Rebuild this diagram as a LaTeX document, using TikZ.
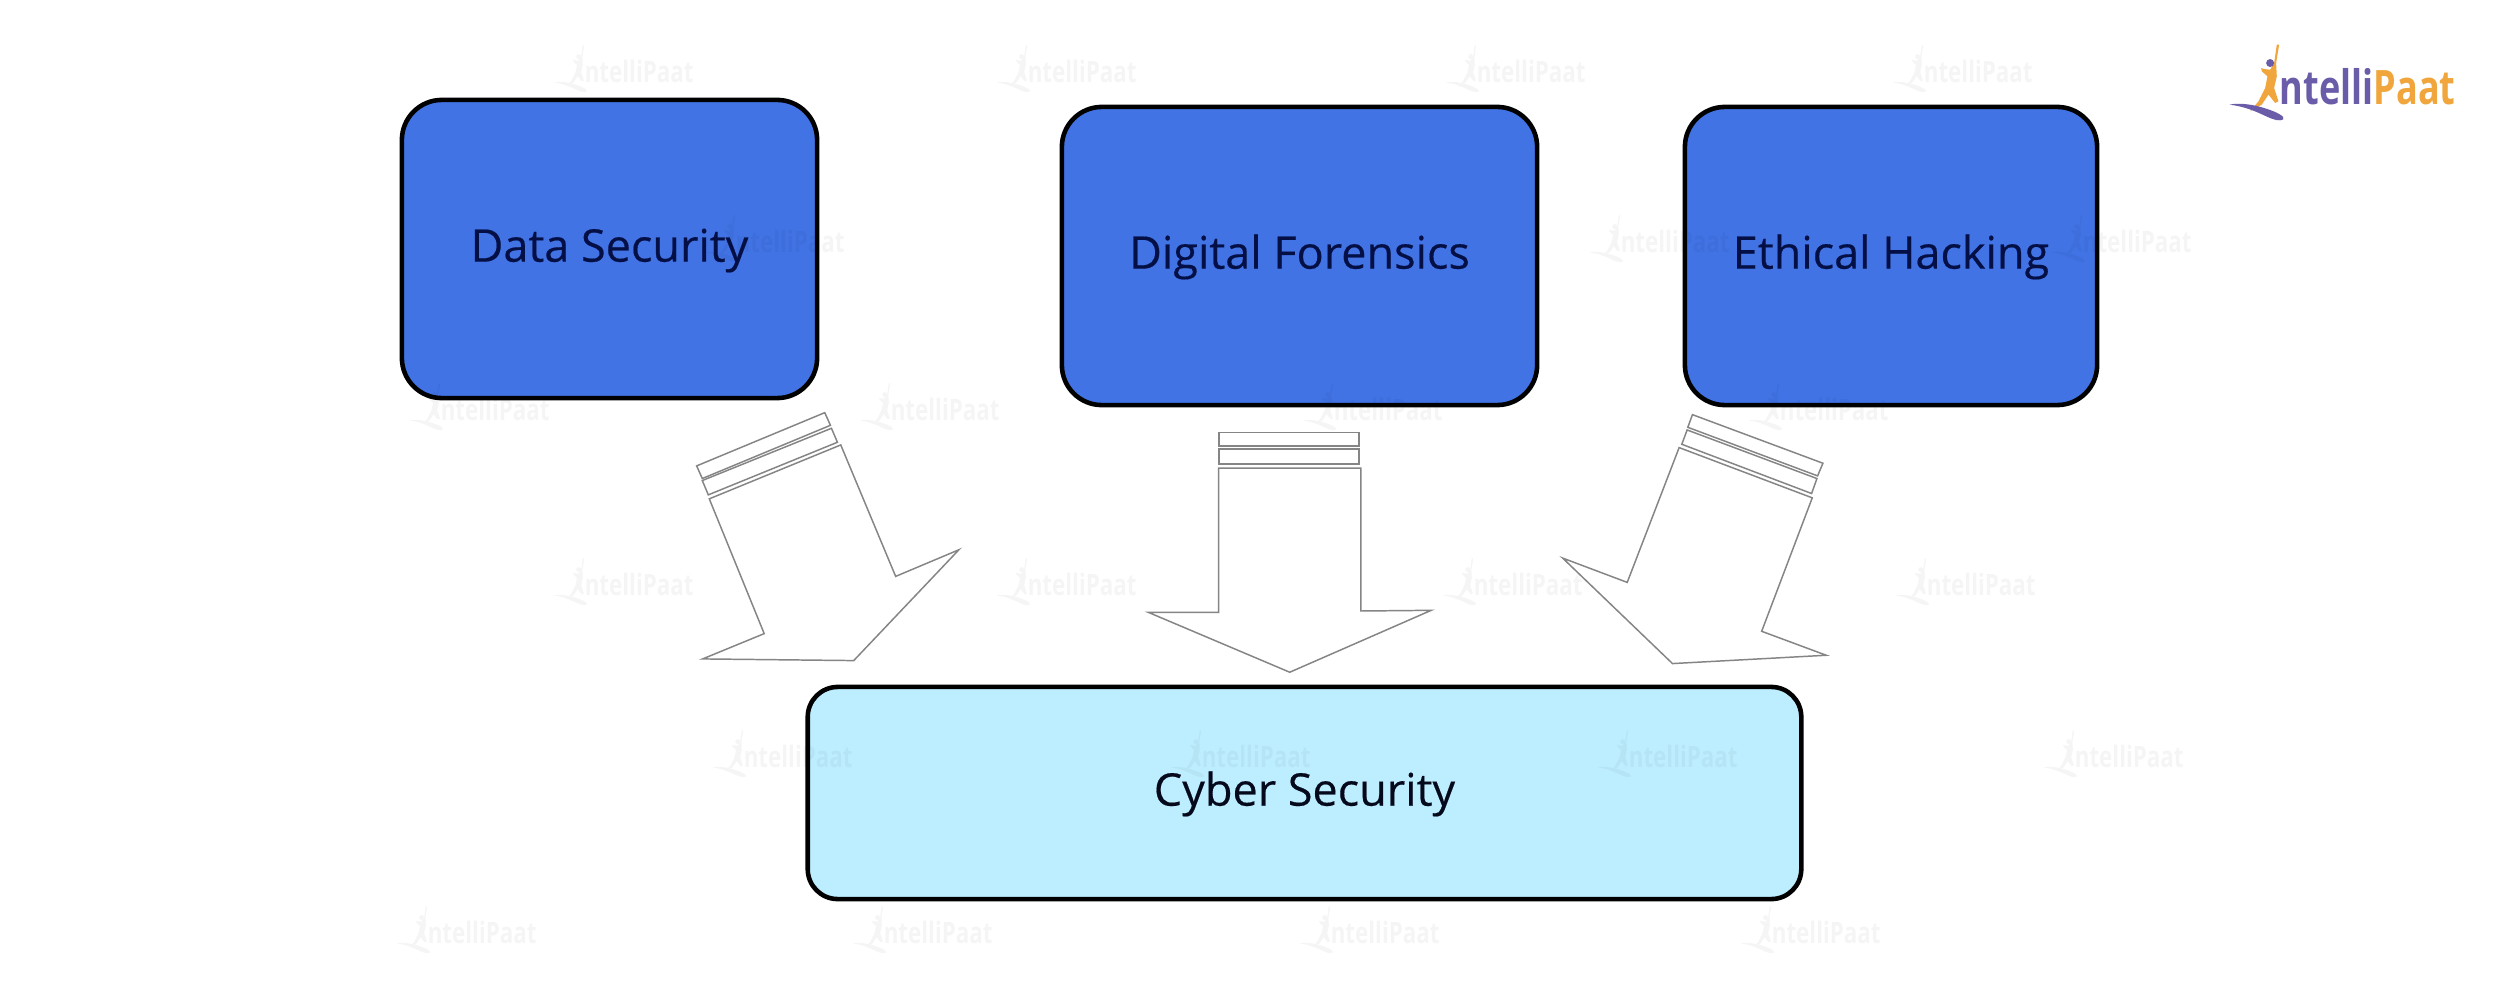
\documentclass[tikz,border=0pt]{standalone}
\usepackage{fontspec}
\setmainfont{Open Sans}
\newfontfamily\labelfont[FakeBold=0.35]{Open Sans}
\definecolor{boxblue}{HTML}{4173E4}
\definecolor{boxlight}{HTML}{BDEEFF}
\definecolor{navy}{HTML}{040F45}
\definecolor{inkdark}{HTML}{05091C}
\definecolor{arrowgray}{HTML}{858585}
\definecolor{logopurple}{HTML}{6A5CA8}
\definecolor{logoorange}{HTML}{F0A63C}
\tikzset{
  boxdeep/.style={draw=black,line width=1.3pt,rounded corners=0.4cm,fill=boxblue,text=navy,font=\labelfont\fontsize{12.8}{14}\selectfont,inner sep=0pt,align=center,text height=10pt,text depth=2.8pt},
  boxpale/.style={boxdeep,fill=boxlight,text=inkdark,rounded corners=0.3cm},
  blockarrow/.style={draw=arrowgray,line width=0.42pt,line join=miter,fill=white},
  ipmark/.pic={
    \begin{scope}[x=0.003333cm,y=-0.003333cm,shift={(-570,-190)}]
      \fill[mainc] (387,75) -- (378,130) -- (380,170) -- (372,205) -- (385,245) -- (375,250) -- (355,225) -- (335,255) -- (300,275) -- (325,245) -- (345,205) -- (352,170) -- (335,155) -- (333,145) -- (342,148) -- (360,150) -- (372,130) -- (380,75) -- cycle;
      \fill[subc] (360,130) circle (12);
      \fill[subc] (238,255) .. controls (270,248) and (320,255) .. (370,275) .. controls (400,287) and (410,300) .. (390,302) .. controls (360,305) and (320,265) .. (238,255) -- cycle;
      \node[anchor=base west,inner sep=0pt,xscale=0.76,transform shape,font=\fontsize{13.5}{15}\selectfont\bfseries] at (388,255) {\textcolor{subc}{ntelli}\textcolor{mainc}{Paat}};
    \end{scope}
  }
}
\colorlet{mainc}{logoorange}
\colorlet{subc}{logopurple}
\begin{document}
\begin{tikzpicture}[x=0.01cm,y=-0.01cm]
\useasboundingbox[fill=white] (0,0) rectangle (2500,1000);
% top boxes and base box
\node[boxdeep,minimum width=4.15cm,minimum height=2.98cm] (data) at (609.5,249) {Data Security};
\node[boxdeep,minimum width=4.75cm,minimum height=2.98cm] (forensics) at (1299.5,256) {Digital Forensics};
\node[boxdeep,minimum width=4.12cm,minimum height=2.98cm] (hacking) at (1891,256) {Ethical Hacking};
\node[boxpale,minimum width=9.93cm,minimum height=2.12cm] (cyber) at (1304.5,793) {Cyber Security};
% left arrow
\begin{scope}[shift={(680,400)},x=0.003333cm,y=-0.003333cm]
  \draw[blockarrow] (50,198) -- (435,38) -- (452,76) -- (67,236) -- cycle;
  \draw[blockarrow] (67,242) -- (455,85) -- (473,127) -- (85,285) -- cycle;
  \draw[blockarrow] (88,297) -- (483,135) -- (648,530) -- (838,450) -- (522,783) -- (68,778) -- (253,702) -- cycle;
\end{scope}
% middle arrow
\begin{scope}[shift={(1130,400)},x=0.003333cm,y=-0.003333cm]
  \draw[blockarrow] (268,97) rectangle (688,138);
  \draw[blockarrow] (268,147) rectangle (688,193);
  \draw[blockarrow] (266,205) -- (694,205) -- (694,634) -- (905,632) -- (480,818) -- (55,638) -- (266,638) -- cycle;
\end{scope}
% right arrow
\begin{scope}[shift={(1550,400)},x=0.003333cm,y=-0.003333cm]
  \draw[blockarrow] (428,44) -- (820,190) -- (804,228) -- (414,82) -- cycle;
  \draw[blockarrow] (412,90) -- (802,236) -- (786,281) -- (396,133) -- cycle;
  \draw[blockarrow] (388,143) -- (788,294) -- (636,695) -- (830,767) -- (368,792) -- (38,475) -- (232,548) -- cycle;
\end{scope}
% faint watermarks
\begin{scope}[opacity=0.04,transparency group]
\colorlet{mainc}{black}\colorlet{subc}{black}
\foreach \wx/\wy in {622/72,1065/72,1514/72,1961/72,773/242,1658/242,2120/242,478/410,928/410,1371/410,1817/410,622/585,1065/585,1511/585,1964/585,781/757,1239/757,1666/757,2112/757,465/933,921/933,1368/933,1809/933}
  \pic[scale=0.62] at (\wx,\wy-3) {ipmark};
\end{scope}
% logo
\pic at (2340,83) {ipmark};
\end{tikzpicture}
\end{document}
